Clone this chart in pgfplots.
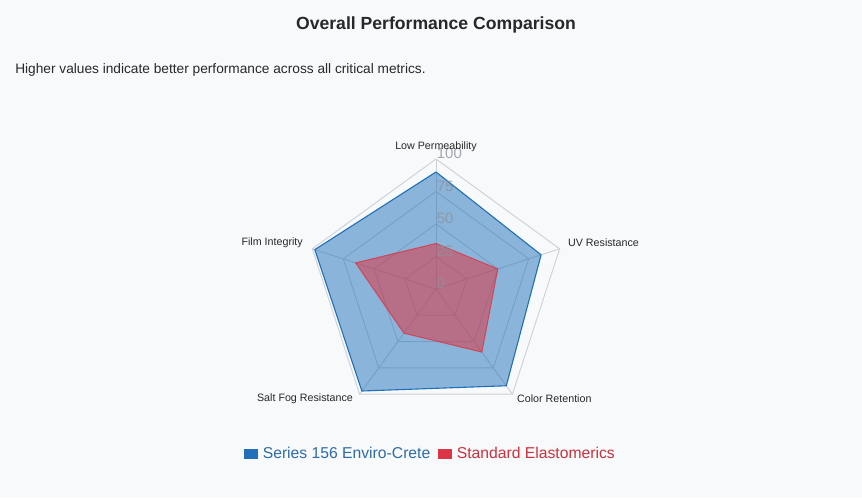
\documentclass[border=0pt]{standalone}
\usepackage{pgfplots}
\pgfplotsset{compat=1.18}
\usepackage{fontspec}
\setmainfont{Liberation Sans}
\definecolor{bg}{HTML}{F7F9FB}
\definecolor{blueS}{RGB}{31,112,184}
\definecolor{blueT}{RGB}{44,108,168}
\definecolor{redS}{RGB}{220,53,69}
\definecolor{redT}{RGB}{204,50,60}
\definecolor{gridc}{RGB}{205,208,212}
\definecolor{tickc}{RGB}{140,146,155}
\definecolor{txt}{RGB}{40,40,40}
\begin{document}
\begin{tikzpicture}
\begin{axis}[
  x=1.3pt, y=1.3pt,
  xmin=-335.3846, xmax=327.6923,
  ymin=-160.7692, ymax=222.3077,
  enlargelimits=false,
  scale only axis,
  hide axis,
  clip=false,
  legend columns=2,
  legend style={at={(axis cs:-4.2,-126.9)}, anchor=center, draw=none, fill=none,
    font=\fontsize{15.7}{18}\selectfont,
    /tikz/every even column/.append style={column sep=6pt}},
]
% background
\fill[bg] (rel axis cs:0,0) rectangle (rel axis cs:1,1);
% grid pentagons
\addplot[gridc, line width=0.9pt, forget plot, data cs=polar] coordinates {(90,100) (18,100) (-54,100) (-126,100) (162,100) (90,100)};
\addplot[gridc, line width=0.9pt, forget plot, data cs=polar] coordinates {(90,75) (18,75) (-54,75) (-126,75) (162,75) (90,75)};
\addplot[gridc, line width=0.9pt, forget plot, data cs=polar] coordinates {(90,50) (18,50) (-54,50) (-126,50) (162,50) (90,50)};
\addplot[gridc, line width=0.9pt, forget plot, data cs=polar] coordinates {(90,25) (18,25) (-54,25) (-126,25) (162,25) (90,25)};
% spokes
\addplot[gridc, line width=0.9pt, forget plot, data cs=polar] coordinates {(90,0) (90,100)};
\addplot[gridc, line width=0.9pt, forget plot, data cs=polar] coordinates {(18,0) (18,100)};
\addplot[gridc, line width=0.9pt, forget plot, data cs=polar] coordinates {(-54,0) (-54,100)};
\addplot[gridc, line width=0.9pt, forget plot, data cs=polar] coordinates {(-126,0) (-126,100)};
\addplot[gridc, line width=0.9pt, forget plot, data cs=polar] coordinates {(162,0) (162,100)};
% series
\addplot[blueS, line width=1.1pt, fill=blueS, fill opacity=0.5, data cs=polar,
  legend image code/.code={\path[fill=blueS, fill opacity=1, draw=none] (0pt,-5pt) rectangle (14pt,5pt);}]
  coordinates {(90,90) (18,85) (-54,92) (-126,97) (162,98) (90,90)};
\addlegendentry{\hspace{2.5pt}\textcolor{blueT}{Series 156 Enviro-Crete}}
\addplot[redS, line width=1.0pt, fill=redS, fill opacity=0.55, draw opacity=0.8, data cs=polar,
  legend image code/.code={\path[fill=redS, fill opacity=1, draw=none] (0pt,-5pt) rectangle (14pt,5pt);}]
  coordinates {(90,35) (18,50) (-54,60) (-126,42) (162,65) (90,35)};
\addlegendentry{\hspace{2.5pt}\textcolor{redT}{Standard Elastomerics}}
% tick labels
\node[anchor=west, inner sep=0pt, text=tickc, opacity=0.8, font=\fontsize{15}{18}\selectfont] at (axis cs:0.5,104.2) {100};
\node[anchor=west, inner sep=0pt, text=tickc, opacity=0.8, font=\fontsize{15}{18}\selectfont] at (axis cs:0.5,79.2) {75};
\node[anchor=west, inner sep=0pt, text=tickc, opacity=0.8, font=\fontsize{15}{18}\selectfont] at (axis cs:0.5,54.2) {50};
\node[anchor=west, inner sep=0pt, text=tickc, opacity=0.8, font=\fontsize{15}{18}\selectfont] at (axis cs:0.5,29.2) {25};
\node[anchor=west, inner sep=0pt, text=tickc, opacity=0.8, font=\fontsize{15}{18}\selectfont] at (axis cs:0.5,4.2) {0};
% axis labels
\node[anchor=center, text=txt, font=\fontsize{10.7}{13}\selectfont] at (axis cs:0,109.2) {Low Permeability};
\node[anchor=west, inner sep=0pt, text=txt, font=\fontsize{10.7}{13}\selectfont] at (axis cs:101.5,35.4) {UV Resistance};
\node[anchor=east, inner sep=0pt, text=txt, font=\fontsize{10.7}{13}\selectfont] at (axis cs:-102.3,35.4) {Film Integrity};
\node[anchor=east, inner sep=0pt, text=txt, font=\fontsize{10.7}{13}\selectfont] at (axis cs:-63.8,-84.6) {Salt Fog Resistance};
\node[anchor=west, inner sep=0pt, text=txt, font=\fontsize{10.7}{13}\selectfont] at (axis cs:62.3,-84.6) {Color Retention};
% title and subtitle
\node[anchor=center, text=txt, font=\bfseries\fontsize{17.6}{21}\selectfont] at (axis cs:0,203.1) {Overall Performance Comparison};
\node[anchor=west, inner sep=0pt, text=txt, font=\fontsize{13.7}{16}\selectfont] at (axis cs:-323.8,168.5) {Higher values indicate better performance across all critical metrics.};
\end{axis}
\end{tikzpicture}
\end{document}
